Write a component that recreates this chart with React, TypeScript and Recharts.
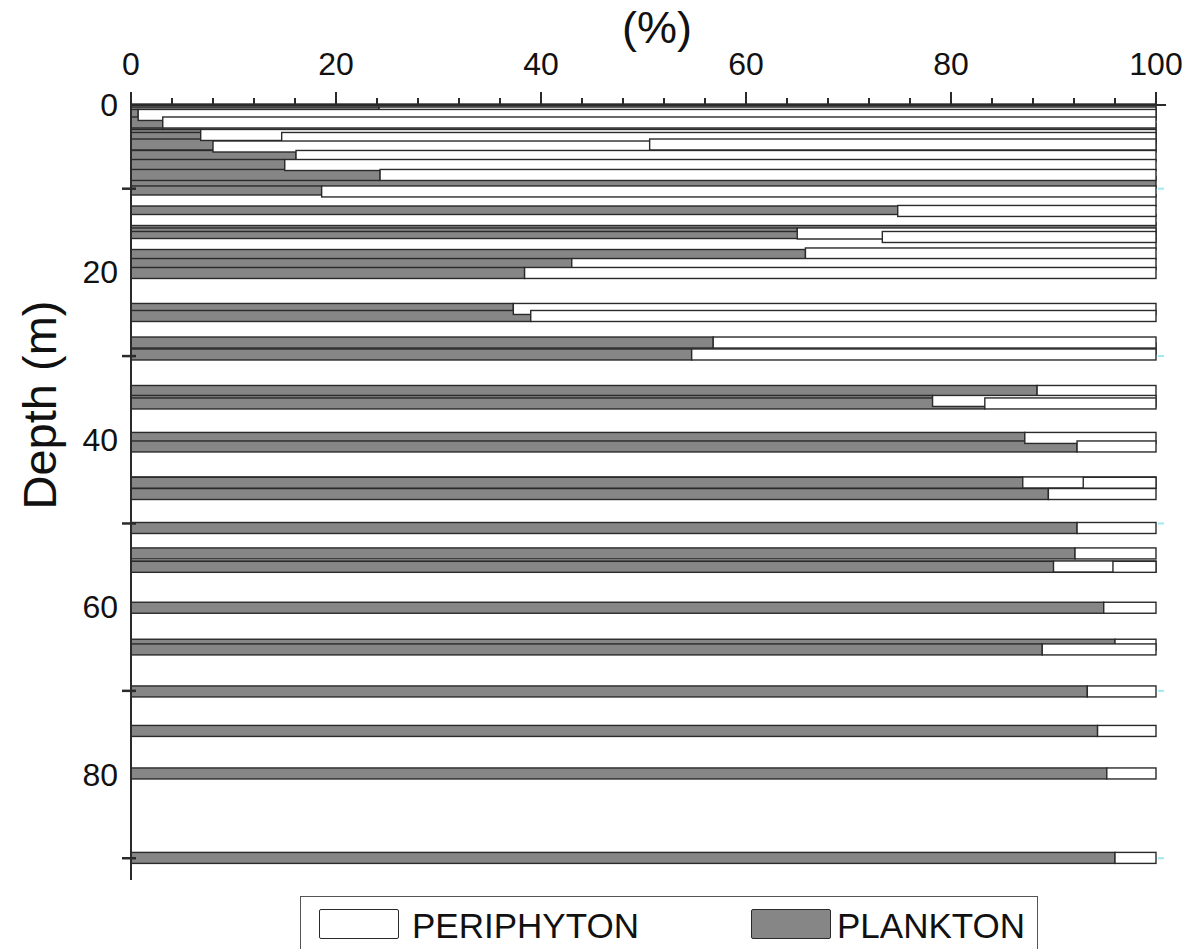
import React from 'react';
import { BarChart, Bar, XAxis, YAxis, Legend, Label } from 'recharts';

// Sampling depth (m) of every bar, in drawing order
const depthM = [
  0.54, 2.87, 14.74, 29.09, 9.2,
  0.9, 1.19, 2.09, 3.58, 3.94,
  4.96, 4.72, 6.09, 7.17, 8.36,
  11.41, 10.33, 13.74, 12.66, 16.61,
  15.35, 15.77, 17.74, 19.0, 20.07,
  24.37, 25.21, 28.38, 29.81, 34.17,
  35.36, 35.66, 39.78, 40.8, 45.1,
  45.14, 46.48, 50.54, 53.58, 55.14,
  55.18, 60.07, 64.49, 65.05, 70.07,
  74.79, 79.87, 89.96,
];

// Plankton share (%) of each bar; periphyton is the remainder to 100
const planktonPct = [
  100, 100, 100, 100, 100,
  24.2, 0.7, 3.1, 6.8, 14.7,
  8.0, 50.6, 16.1, 15.0, 24.3,
  0, 18.6, 0, 74.8, 0,
  65.0, 73.3, 65.8, 43.0, 38.4,
  37.3, 39.0, 56.8, 54.7, 88.4,
  78.2, 83.3, 87.2, 92.3, 87.0,
  92.9, 89.5, 92.3, 92.1, 90.0,
  95.8, 94.9, 96.0, 88.9, 93.3,
  94.3, 95.2, 96.0,
];

const xTicks = [0, 4, 8, 12, 16, 20, 24, 28, 32, 36, 40, 44, 48, 52, 56, 60, 64, 68, 72, 76, 80, 84, 88, 92, 96, 100];
const yTicks = [0, 10, 20, 30, 40, 50, 60, 70, 80, 90];
const seriesNames = { plankton: 'PLANKTON', periphyton: 'PERIPHYTON' };
const legendOrder = ['PERIPHYTON', 'PLANKTON'];

const data = depthM.map((d, i) => ({
  depth: d,
  plankton: planktonPct[i],
  periphyton: Math.round((100 - planktonPct[i]) * 100) / 100,
}));

const FONT = '"Liberation Sans", Arial, Helvetica, sans-serif';
const GRAY = '#868686';
const EDGE = '#2a2a2a';
const BAR_H = 11;
const PLOT_W = 1025;

const makeShape = (fill: string) => (props: any) => {
  const { x, y, width, height } = props;
  if (!(width > 0.05)) return <g />;
  const cy = y + (height || 0) / 2;
  return (
    <rect x={x} y={cy - BAR_H / 2} width={width} height={BAR_H} fill={fill} stroke={EDGE} strokeWidth={1.4} />
  );
};

const XTick = (props: any) => {
  const { x, y, payload } = props;
  const v = payload.value;
  const major = v % 20 === 0;
  return (
    <g>
      <line x1={x} x2={x} y1={y} y2={y - (major ? 13 : 7)} stroke={EDGE} strokeWidth={2} />
      {major && (
        <text x={x} y={y - 30} textAnchor="middle" fontSize={32} fontFamily={FONT} fill="#111">
          {v}
        </text>
      )}
    </g>
  );
};

const YTick = (props: any) => {
  const { x, y, payload } = props;
  const v = payload.value;
  if (v % 20 === 0) {
    return (
      <text x={x - 13} y={y + 11} textAnchor="end" fontSize={32} fontFamily={FONT} fill="#111">
        {v}
      </text>
    );
  }
  return (
    <g>
      <line x1={x - 9} x2={x + 5} y1={y} y2={y} stroke={EDGE} strokeWidth={2.5} />
      <line x1={x + PLOT_W + 2} x2={x + PLOT_W + 8} y1={y} y2={y} stroke="#9ee9f2" strokeWidth={2} />
    </g>
  );
};

const LegendBox = (props: any) => {
  const items = [...(props.payload || [])].sort(
    (a: any, b: any) => legendOrder.indexOf(a.value) - legendOrder.indexOf(b.value)
  );
  const swLeft = [18, 450];
  const txLeft = [111, 536];
  return (
    <div
      style={{
        position: 'relative',
        width: 738,
        height: 80,
        border: '1.5px solid #555',
        boxSizing: 'border-box',
        fontFamily: FONT,
        background: '#fff',
      }}
    >
      {items.map((it: any, i: number) => (
        <React.Fragment key={it.value}>
          <div
            style={{
              position: 'absolute',
              left: swLeft[i],
              top: 12,
              width: 80,
              height: 30,
              background: it.color,
              border: `1.5px solid ${EDGE}`,
              borderRadius: 2,
              boxSizing: 'border-box',
            }}
          />
          <span
            style={{
              position: 'absolute',
              left: txLeft[i],
              top: 8,
              fontSize: 35,
              lineHeight: '42px',
              color: '#111',
            }}
          >
            {it.value}
          </span>
        </React.Fragment>
      ))}
    </div>
  );
};

export default function App() {
  return (
    <div style={{ position: 'absolute', left: 0, top: 0 }}>
      <BarChart
        width={1189}
        height={949}
        data={data}
        layout="vertical"
        margin={{ top: 0, right: 23, bottom: 69, left: 0 }}
      >
        <XAxis
          type="number"
          orientation="top"
          domain={[0, 100]}
          ticks={xTicks}
          interval={0}
          height={105}
          padding={{ left: 0, right: 10 }}
          tickSize={0}
          tickMargin={0}
          tickLine={false}
          axisLine={{ stroke: EDGE, strokeWidth: 2 }}
          tick={<XTick />}
        >
          <Label
            content={() => (
              <text x={657} y={43} textAnchor="middle" fontSize={45} fontFamily={FONT} fill="#111">
                (%)
              </text>
            )}
          />
        </XAxis>
        <YAxis
          type="number"
          dataKey="depth"
          domain={[0, 92.6]}
          ticks={yTicks}
          interval={0}
          width={131}
          tickSize={0}
          tickMargin={0}
          tickLine={false}
          axisLine={{ stroke: EDGE, strokeWidth: 2 }}
          tick={<YTick />}
        >
          <Label
            content={(p: any) => {
              const vb = p.viewBox || {};
              const cx = vb.x + 39;
              const cy = vb.y + 300;
              return (
                <text
                  x={cx}
                  y={cy}
                  transform={`rotate(-90 ${cx} ${cy})`}
                  textAnchor="middle"
                  dominantBaseline="central"
                  fontSize={47}
                  fontFamily={FONT}
                  fill="#111"
                >
                  Depth (m)
                </text>
              );
            }}
          />
        </YAxis>
        <Legend
          layout="horizontal"
          verticalAlign="middle"
          align="center"
          content={<LegendBox />}
          wrapperStyle={{ left: 300, top: 896, width: 738, height: 80, bottom: 'auto', right: 'auto' }}
        />
        <Bar
          dataKey="plankton"
          name={seriesNames.plankton}
          stackId="s"
          fill={GRAY}
          stroke={EDGE}
          shape={makeShape(GRAY)}
          isAnimationActive={false}
        />
        <Bar
          dataKey="periphyton"
          name={seriesNames.periphyton}
          stackId="s"
          fill="#ffffff"
          stroke={EDGE}
          shape={makeShape('#ffffff')}
          isAnimationActive={false}
        />
      </BarChart>
    </div>
  );
}
